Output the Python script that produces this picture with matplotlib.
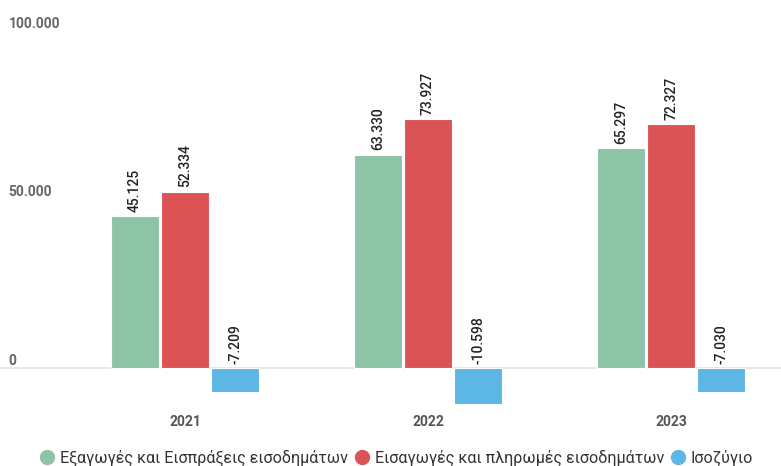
import numpy as np
import matplotlib.pyplot as plt
from matplotlib.lines import Line2D

years = ["2021", "2022", "2023"]
exports = [45125, 63330, 65297]
imports = [52334, 73927, 72327]
balance = [-7209, -10598, -7030]

series_names = ["Εξαγωγές και Εισπράξεις εισοδημάτων",
                "Εισαγωγές και πληρωμές εισοδημάτων",
                "Ισοζύγιο"]
colors = ["#8DC3A7", "#DC5356", "#5DB7E4"]
y_ticks = [0, 50000, 100000]


def fmt(v):
    return f"{v:,}".replace(",", ".")


plt.rcParams["font.family"] = ["Roboto", "DejaVu Sans"]

W, H = 781, 466
fig = plt.figure(figsize=(W / 100, H / 100), dpi=100)
# axes placed in pixel terms: zero line at y=368, 1000 units = 3.37 px
ymin, ymax = -12000, 100000
px_per = 3.37 / 1000
top_px = 368 - ymax * px_per
bot_px = 368 - ymin * px_per
ax = fig.add_axes([0, (H - bot_px) / H, 1, (bot_px - top_px) / H])

x = np.arange(len(years))
bw = 0.2
ax.set_xlim(-185 / 243, (781 - 185) / 243)
ax.set_ylim(ymin, ymax)

for i, (vals, col) in enumerate(zip([exports, imports, balance], colors)):
    pos = x + (i - 1) * 0.206
    ax.bar(pos, vals, width=bw, color=col, edgecolor="white", linewidth=0.8, zorder=3)
    for p, v in zip(pos, vals):
        base = max(v, 0)
        ax.annotate(fmt(v), (p, base), xytext=(0, 3), textcoords="offset points",
                    rotation=90, ha="center", va="bottom", fontsize=10,
                    fontweight="medium", color="#222222", zorder=4)

ax.axhline(0, color="#e3e3e3", linewidth=1.2, zorder=2)

for t in y_ticks:
    ax.annotate(fmt(t), (0, t), xycoords=("axes fraction", "data"),
                xytext=(6, 0), textcoords="offset points", ha="left", va="bottom",
                fontsize=10, fontweight="bold", color="#666666")

ax.set_xticks(x)
ax.set_xticklabels(years, fontsize=10, fontweight="bold", color="#555555")
ax.tick_params(axis="x", length=0, pad=5)
ax.set_yticks([])
for s in ax.spines.values():
    s.set_visible(False)

handles = [Line2D([], [], marker="o", linestyle="none", markersize=10,
                  markerfacecolor=c, markeredgecolor=c) for c in colors]
fig.legend(handles, series_names, loc="center", bbox_to_anchor=(0.507, 0.017),
           ncol=3, frameon=False, fontsize=11.6, labelcolor="#333333",
           handletextpad=0.3, columnspacing=0.35, handlelength=1.0)

fig.savefig("out.png", dpi=100)
